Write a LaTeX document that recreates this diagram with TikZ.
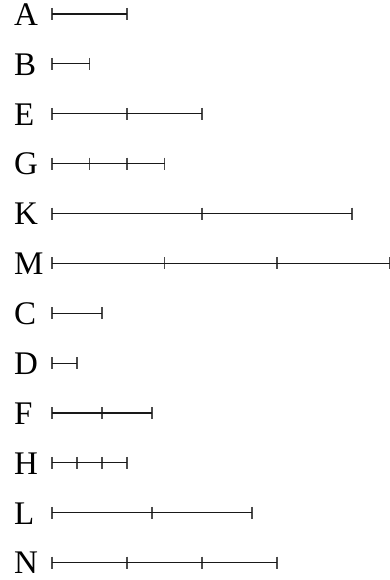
\documentclass[tikz,border=0pt]{standalone}
\usepackage{fontspec}
\setmainfont{Liberation Serif}
\begin{document}
\begin{tikzpicture}[x=1pt,y=1pt,
  lab/.style={anchor=base west,inner sep=0pt,font=\fontsize{33}{33}\selectfont},
  bar/.style={line width=1.1pt,color=black!90},
  tick/.style={line width=1.3pt,color=black!70}]
\useasboundingbox (0,0) rectangle (390,-580);
\foreach \lab/\ticks [count=\i from 0] in {A/{0,6},B/{0,3},E/{0,6,12},G/{0,3,6,9},K/{0,12,24},M/{0,9,18,27},C/{0,4},D/{0,2},F/{0,4,8},H/{0,2,4,6},L/{0,8,16},N/{0,6,12,18}}{
  \pgfmathsetmacro{\yy}{-14-49.88*\i}
  \node[lab] (l\i) at (14,\yy-11.3) {\lab};
  \coordinate (s\i) at (52,\yy);
  \foreach \t in \ticks {
    \coordinate (t\i-\t) at (52+12.5*\t,\yy);
    \draw[tick] ([yshift=6pt]t\i-\t) -- ([yshift=-6pt]t\i-\t);
    \xdef\last{\t}
  }
  \draw[bar] (s\i) -- (t\i-\last);
}
\end{tikzpicture}
\end{document}
